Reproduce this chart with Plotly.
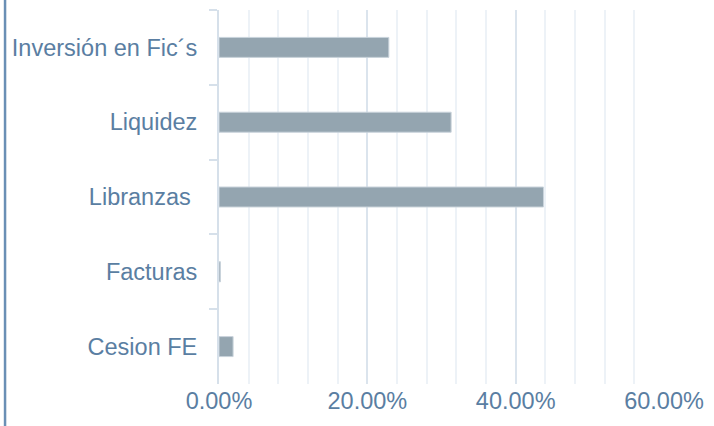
import plotly.graph_objects as go

categories = ["Inversión en Fic´s", "Liquidez", "Libranzas ", "Facturas", "Cesion FE"]
values = [0.229, 0.313, 0.4375, 0.002, 0.019]
x_ticks = [0, 0.2, 0.4, 0.6]
x_tick_labels = ["0.00%", "20.00%", "40.00%", "60.00%"]

W, H = 714, 426
L, R, T, B = 219, 42, 10, 42
pw, ph = W - L - R, H - T - B

label_color = "#5a7ea2"

fig = go.Figure()
fig.add_trace(go.Bar(
    x=values, y=categories, orientation="h",
    marker=dict(color="#94a5b0", line=dict(color="#c9d3db", width=1)),
    hoverinfo="skip",
))

fig.update_layout(
    width=W, height=H,
    margin=dict(l=L, r=R, t=T, b=B),
    paper_bgcolor="white", plot_bgcolor="white",
    bargap=0.733,
    showlegend=False,
    font=dict(family="Liberation Sans, Arial, sans-serif", size=23.5, color=label_color),
    xaxis=dict(
        range=[0, 0.6], tickvals=x_ticks, ticktext=x_tick_labels,
        showgrid=True, gridcolor="#dbe4ed", gridwidth=1.5,
        minor=dict(dtick=0.04, showgrid=True, gridcolor="#edf2f7", gridwidth=1.5),
        zeroline=False, showline=False, ticks="",
        tickfont=dict(size=23.5, color=label_color),
        fixedrange=True,
    ),
    yaxis=dict(
        categoryorder="array", categoryarray=categories, autorange="reversed",
        showline=True, linecolor="#d6e0ea", linewidth=2,
        ticks="outside", tickson="boundaries", ticklen=8, tickcolor="#d6e0ea", tickwidth=2,
        showgrid=False, zeroline=False,
        ticklabelstandoff=15,
        tickfont=dict(size=23.5, color=label_color),
        fixedrange=True,
    ),
    shapes=[dict(
        type="line", xref="paper", yref="paper",
        x0=(1.2 - L) / pw, x1=(1.2 - L) / pw,
        y0=-B / ph, y1=1 + T / ph,
        line=dict(color="#6a8fb5", width=2.5),
    )],
)

fig.write_html(
    "out.html",
    config={"displayModeBar": False},
    post_script="document.body.style.margin='0';document.body.style.overflow='hidden';",
)
